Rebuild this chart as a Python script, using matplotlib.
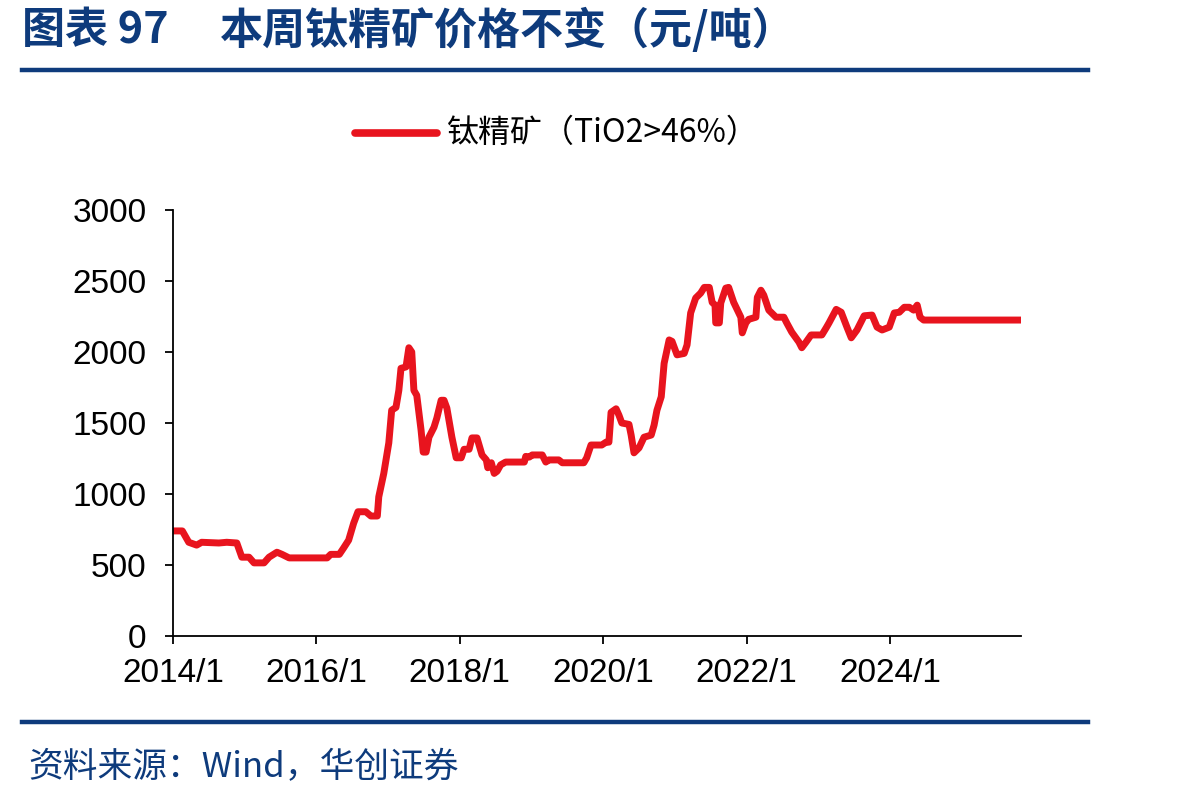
import matplotlib.pyplot as plt
from matplotlib.lines import Line2D

plt.rcParams['font.family'] = ['Liberation Sans', 'Noto Sans CJK SC', 'DejaVu Sans']

NAVY = '#0E3B7C'
RED = '#E8141E'

# 时间(小数年份)与钛精矿价格(元/吨)
years = [2014.00, 2014.13, 2014.22, 2014.33, 2014.40, 2014.64, 2014.75, 2014.89,
         2014.96, 2015.06, 2015.13, 2015.27, 2015.34, 2015.45, 2015.52, 2015.62,
         2016.15, 2016.20, 2016.32, 2016.38, 2016.45, 2016.52, 2016.58, 2016.69,
         2016.76, 2016.85, 2016.87, 2016.94, 2017.01, 2017.05, 2017.11, 2017.15,
         2017.18, 2017.25, 2017.29, 2017.33, 2017.36, 2017.40, 2017.46, 2017.49,
         2017.53, 2017.57, 2017.64, 2017.68, 2017.74, 2017.78, 2017.82, 2017.89,
         2017.95, 2018.02, 2018.06, 2018.13, 2018.17, 2018.24, 2018.31, 2018.37,
         2018.39, 2018.44, 2018.48, 2018.52, 2018.57, 2018.64, 2018.90, 2018.92,
         2018.97, 2019.01, 2019.15, 2019.20, 2019.24, 2019.38, 2019.43, 2019.73,
         2019.77, 2019.83, 2019.98, 2020.04, 2020.08, 2020.11, 2020.18, 2020.22,
         2020.26, 2020.36, 2020.39, 2020.43, 2020.50, 2020.57, 2020.67, 2020.71,
         2020.75, 2020.81, 2020.85, 2020.88, 2020.92, 2020.96, 2021.03, 2021.13,
         2021.17, 2021.22, 2021.29, 2021.36, 2021.41, 2021.48, 2021.52, 2021.56,
         2021.57, 2021.62, 2021.64, 2021.71, 2021.75, 2021.82, 2021.92, 2021.94,
         2021.99, 2022.03, 2022.13, 2022.15, 2022.20, 2022.24, 2022.31, 2022.35,
         2022.41, 2022.52, 2022.56, 2022.63, 2022.73, 2022.77, 2022.83, 2022.90,
         2023.05, 2023.11, 2023.15, 2023.25, 2023.32, 2023.40, 2023.46, 2023.54,
         2023.64, 2023.75, 2023.82, 2023.89, 2023.99, 2024.06, 2024.13, 2024.20,
         2024.27, 2024.33, 2024.38, 2024.42, 2024.47, 2025.83]
prices = [740, 740, 660, 640, 660, 655, 660, 655,
          555, 555, 515, 515, 555, 590, 575, 550,
          550, 575, 575, 620, 675, 795, 875, 875,
          845, 845, 980, 1145, 1360, 1590, 1610, 1730,
          1885, 1895, 2030, 2000, 1730, 1695, 1450, 1295,
          1295, 1400, 1470, 1535, 1660, 1660, 1605, 1400,
          1255, 1255, 1315, 1315, 1395, 1395, 1275, 1240,
          1185, 1220, 1145, 1160, 1205, 1225, 1225, 1265,
          1260, 1275, 1275, 1225, 1240, 1240, 1220, 1220,
          1255, 1345, 1345, 1365, 1365, 1575, 1600, 1555,
          1500, 1490, 1415, 1290, 1325, 1400, 1415, 1485,
          1590, 1685, 1920, 1990, 2085, 2075, 1980, 1990,
          2050, 2275, 2380, 2415, 2455, 2455, 2350, 2330,
          2205, 2205, 2345, 2450, 2455, 2350, 2245, 2135,
          2205, 2230, 2245, 2385, 2435, 2400, 2295, 2275,
          2245, 2245, 2205, 2140, 2070, 2030, 2070, 2120,
          2120, 2170, 2205, 2300, 2280, 2175, 2100, 2155,
          2255, 2260, 2175, 2155, 2175, 2275, 2280, 2315,
          2315, 2295, 2330, 2245, 2225, 2225]

series_name = '钛精矿（TiO2>46%）'
tick_years = [2014, 2016, 2018, 2020, 2022, 2024]
tick_labels = ['2014/1', '2016/1', '2018/1', '2020/1', '2022/1', '2024/1']
y_ticks = [0, 500, 1000, 1500, 2000, 2500, 3000]

fig = plt.figure(figsize=(11.98, 8.0), dpi=100)
ax = fig.add_axes([0.1444, 0.205, 0.708, 0.5325])

ax.plot(years, prices, color=RED, linewidth=5, solid_joinstyle='round',
        solid_capstyle='round')

ax.set_xlim(2014, 2025.83)
ax.set_ylim(0, 3000)
ax.set_xticks(tick_years)
ax.set_xticklabels(tick_labels)
ax.set_yticks(y_ticks)
ax.tick_params(axis='both', direction='out', length=6, width=1.3,
               labelsize=24, colors='black')
ax.tick_params(axis='y', pad=13)
ax.tick_params(axis='x', pad=10)
for s in ['top', 'right']:
    ax.spines[s].set_visible(False)
for s in ['left', 'bottom']:
    ax.spines[s].set_linewidth(1.3)

# 图例
fig.add_artist(Line2D([355 / 1198, 437 / 1198], [1 - 133 / 800, 1 - 133 / 800],
                      transform=fig.transFigure, color=RED, linewidth=5.5,
                      solid_capstyle='round'))
fig.text(447 / 1198, 1 - 133 / 800, series_name, fontsize=23, va='center',
         ha='left', family=['Noto Sans CJK SC', 'Liberation Sans'])

# 标题与分隔线
fig.text(22 / 1198, 1 - 30 / 800, '图表 97', fontsize=31, fontweight='bold',
         color=NAVY, va='center', ha='left',
         family=['Noto Sans CJK SC', 'DejaVu Sans'])
fig.text(220 / 1198, 1 - 30 / 800, '本周钛精矿价格不变（元/吨）',
         fontsize=31, fontweight='bold', color=NAVY, va='center', ha='left',
         family=['Noto Sans CJK SC', 'DejaVu Sans'])
for yy in [70, 722]:
    fig.add_artist(Line2D([22 / 1198, 1088 / 1198], [1 - yy / 800, 1 - yy / 800],
                          transform=fig.transFigure, color=NAVY, linewidth=3.2))

fig.text(28 / 1198, 1 - 768 / 800, '资料来源：Wind，华创证券', fontsize=25,
         style='italic', color=NAVY, va='center', ha='left',
         family=['Noto Sans CJK SC', 'DejaVu Sans'])

fig.savefig('out.png', dpi=100)
